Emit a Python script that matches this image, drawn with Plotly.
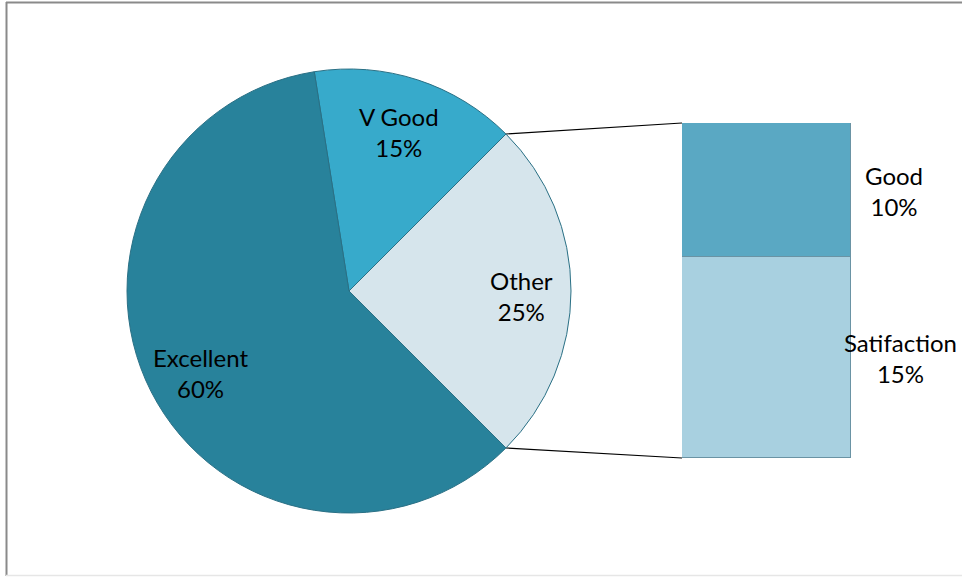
import math
import plotly.graph_objects as go

# ---- data ----
pie_labels = ["Other", "V Good", "Excellent"]
pie_values = [25, 15, 60]
bar_labels = ["Satifaction", "Good"]
bar_values = [15, 10]

W, H = 962, 577
FONT = "Lato, 'Open Sans', sans-serif"
FS = 24

# geometry (pixels)
cx, cy, R = 349, 291, 222
bar_x0, bar_x1 = 682, 851
bar_bottom, bar_top = 458, 123

pie_colors = ["#d6e5ec", "#37aacb", "#28829b"]
bar_colors = ["#a8d0e0", "#5aa8c3"]

fig = go.Figure()

# connector lines on a pixel overlay axis
other_frac = pie_values[0] / sum(pie_values)
half = other_frac * 360 / 2
a = math.radians(half)
p_up = (cx + R * math.cos(a), cy - R * math.sin(a))
p_dn = (cx + R * math.cos(a), cy + R * math.sin(a))
fig.add_trace(go.Scatter(
    x=[p_up[0], bar_x0, None, p_dn[0], bar_x0],
    y=[p_up[1], bar_top, None, p_dn[1], bar_bottom],
    mode="lines", line=dict(color="black", width=1.2),
    xaxis="x2", yaxis="y2", showlegend=False, hoverinfo="skip",
))

# pie (counterclockwise, "Other" centred on 3 o'clock facing the bar)
fig.add_trace(go.Pie(
    labels=pie_labels, values=pie_values, sort=False,
    direction="counterclockwise", rotation=half,
    marker=dict(colors=pie_colors, line=dict(color="#2a7085", width=1)),
    textinfo="none", hoverinfo="label+percent", showlegend=False,
    domain=dict(x=[(cx - R) / W, (cx + R) / W],
                y=[(H - cy - R) / H, (H - cy + R) / H]),
))

# stacked bar
for lab, val, col in zip(bar_labels, bar_values, bar_colors):
    fig.add_trace(go.Bar(
        x=[0], y=[val], name=lab, marker=dict(color=col, line=dict(color="#6a93a4", width=1)),
        width=1, showlegend=False, xaxis="x", yaxis="y",
    ))

total = sum(bar_values)
fig.update_layout(
    width=W, height=H, margin=dict(l=0, r=0, t=0, b=0),
    paper_bgcolor="white", plot_bgcolor="rgba(0,0,0,0)",
    barmode="stack", bargap=0,
    xaxis=dict(domain=[bar_x0 / W, bar_x1 / W], range=[-0.5, 0.5], visible=False, anchor="y"),
    yaxis=dict(domain=[(H - bar_bottom) / H, (H - bar_top) / H], range=[0, total], visible=False, anchor="x"),
    xaxis2=dict(domain=[0, 1], range=[0, W], visible=False, anchor="y2"),
    yaxis2=dict(domain=[0, 1], range=[H, 0], visible=False, anchor="x2"),
    font=dict(family=FONT, size=FS, color="black"),
)

# frame (top/left grey, bottom faint)
fig.add_shape(type="line", xref="x2", yref="y2", x0=6, x1=W + 5, y0=2.5, y1=2.5,
              line=dict(color="#8a8a8a", width=2), layer="below")
fig.add_shape(type="line", xref="x2", yref="y2", x0=6.5, x1=6.5, y0=2, y1=576,
              line=dict(color="#8a8a8a", width=2), layer="below")
fig.add_shape(type="line", xref="x2", yref="y2", x0=6, x1=W + 5, y0=575.5, y1=575.5,
              line=dict(color="#e6e6e6", width=1.5), layer="below")

def pct(v, tot):
    return f"{round(100 * v / tot)}%"

ptot = sum(pie_values)
ann = [
    (pie_labels[2], pct(pie_values[2], ptot), 200, 373),
    (pie_labels[1], pct(pie_values[1], ptot), 399, 132),
    (pie_labels[0], pct(pie_values[0], ptot), 521, 296),
    (bar_labels[1], pct(bar_values[1], ptot), 894, 191),
    (bar_labels[0], pct(bar_values[0], ptot), 900, 358),
]
for name, p, x, y in ann:
    fig.add_annotation(x=x, y=y, xref="x2", yref="y2", text=f"{name}<br>{p}",
                       showarrow=False, align="center",
                       font=dict(family=FONT, size=FS, color="black"))

fig.write_html("out.html", config={"displayModeBar": False},
               post_script="document.body.style.margin='0';document.body.style.overflow='hidden';")
